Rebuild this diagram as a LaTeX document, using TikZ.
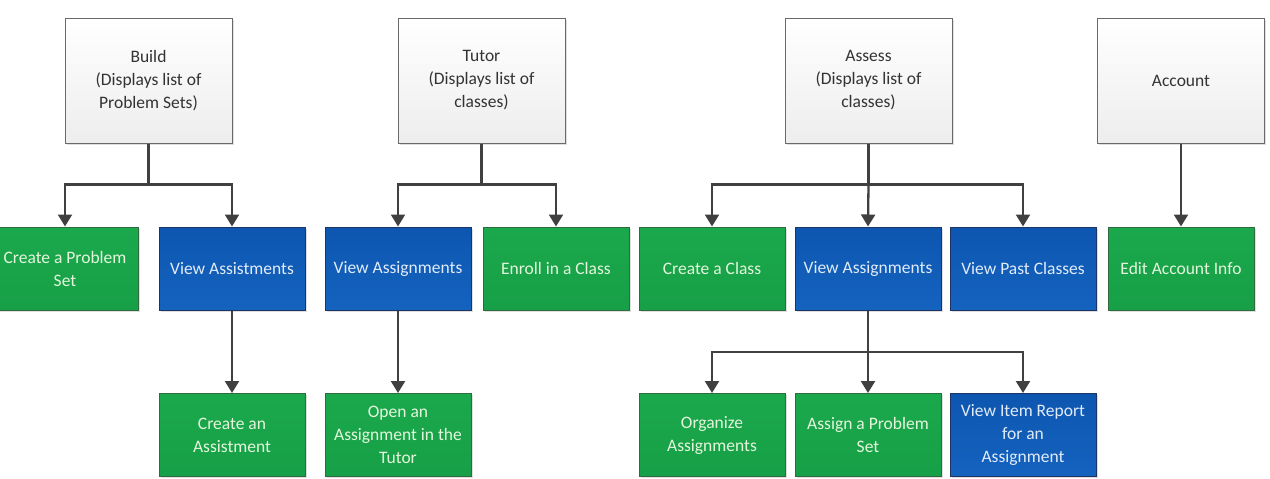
\documentclass[tikz,border=0pt]{standalone}
\usepackage{fontspec}
\setmainfont{Carlito}
\usetikzlibrary{arrows.meta,shadows}
\definecolor{topborder}{HTML}{6A6A6A}
\definecolor{toptext}{HTML}{333333}
\definecolor{grnA}{HTML}{1BA84C}
\definecolor{grnB}{HTML}{17A047}
\definecolor{grnborder}{HTML}{2F6B3F}
\definecolor{bluA}{HTML}{0D56B0}
\definecolor{bluB}{HTML}{1463BF}
\definecolor{bluborder}{HTML}{1E3564}
\definecolor{grntext}{HTML}{E4F6DC}
\definecolor{blutext}{HTML}{E2ECF8}
\definecolor{arrowc}{HTML}{404040}
\tikzset{
  base/.style={rectangle, align=center, line width=1pt,
    font=\fontsize{17.5}{23}\selectfont,
    drop shadow={shadow xshift=1.5pt, shadow yshift=-1.5pt, opacity=0.25}},
  topbox/.style={base, draw=topborder, top color=white, bottom color=black!7,
    text=toptext, minimum width=167pt, minimum height=125pt},
  grnbox/.style={base, draw=grnborder, top color=grnA, bottom color=grnB,
    text=grntext, minimum width=146pt, minimum height=83pt},
  blubox/.style={base, draw=bluborder, top color=bluA, bottom color=bluB,
    text=blutext, minimum width=146pt, minimum height=83pt},
  arr/.style={draw=arrowc, line width=2.3pt,
    -{Triangle[width=14pt,length=12pt]}},
  ln/.style={draw=arrowc, line width=2.3pt}
}
\begin{document}
\begin{tikzpicture}[x=1pt,y=-1pt]
\useasboundingbox (0,0) rectangle (1270,479);
% top level
\node[topbox] (build)   at (148.5,80.5) {Build\\(Displays list of\\Problem Sets)};
\node[topbox] (tutor)   at (481.5,80.5) {Tutor\\(Displays list of\\classes)};
\node[topbox] (assess)  at (868.5,80.5) {Assess\\(Displays list of\\classes)};
\node[topbox] (account) at (1181,80.5)  {Account};
% second level
\node[grnbox] (cps) at (65,268.5)   {Create a Problem\\Set};
\node[blubox] (vas) at (232,268.5)  {View Assistments};
\node[blubox] (va1) at (398,268.5)  {View Assignments};
\node[grnbox] (enr) at (556,268.5)  {Enroll in a Class};
\node[grnbox] (cc)  at (712,268.5)  {Create a Class};
\node[blubox] (va2) at (868,268.5)  {View Assignments};
\node[blubox] (vpc) at (1023,268.5) {View Past Classes};
\node[grnbox] (eai) at (1181,268.5) {Edit Account Info};
% third level
\node[grnbox] (ca)  at (232,435)  {Create an\\Assistment};
\node[grnbox] (oa)  at (398,435)  {Open an\\Assignment in the\\Tutor};
\node[grnbox] (org) at (712,435)  {Organize\\Assignments};
\node[grnbox] (aps) at (868,435)  {Assign a Problem\\Set};
\node[blubox] (vir) at (1023,435) {View Item Report\\for an\\Assignment};
% connectors
\draw[ln] (build.south) -- ++(0,41) coordinate (bj);
\draw[arr] (bj) -| (cps.north);
\draw[arr] (bj) -| (vas.north);
\draw[ln] (tutor.south) -- ++(0,41) coordinate (tj);
\draw[arr] (tj) -| (va1.north);
\draw[arr] (tj) -| (enr.north);
\draw[ln] (assess.south) -- ++(0,41) coordinate (aj);
\draw[arr] (aj) -| (cc.north);
\draw[arr] (aj) -- (va2.north);
\draw[arr] (aj) -| (vpc.north);
\draw[arr] (account.south) -- (eai.north);
\draw[arr] (vas.south) -- (ca.north);
\draw[arr] (va1.south) -- (oa.north);
\draw[ln] (va2.south) -- ++(0,41.5) coordinate (vj);
\draw[arr] (vj) -| (org.north);
\draw[arr] (vj) -- (aps.north);
\draw[arr] (vj) -| (vir.north);
\end{tikzpicture}
\end{document}
